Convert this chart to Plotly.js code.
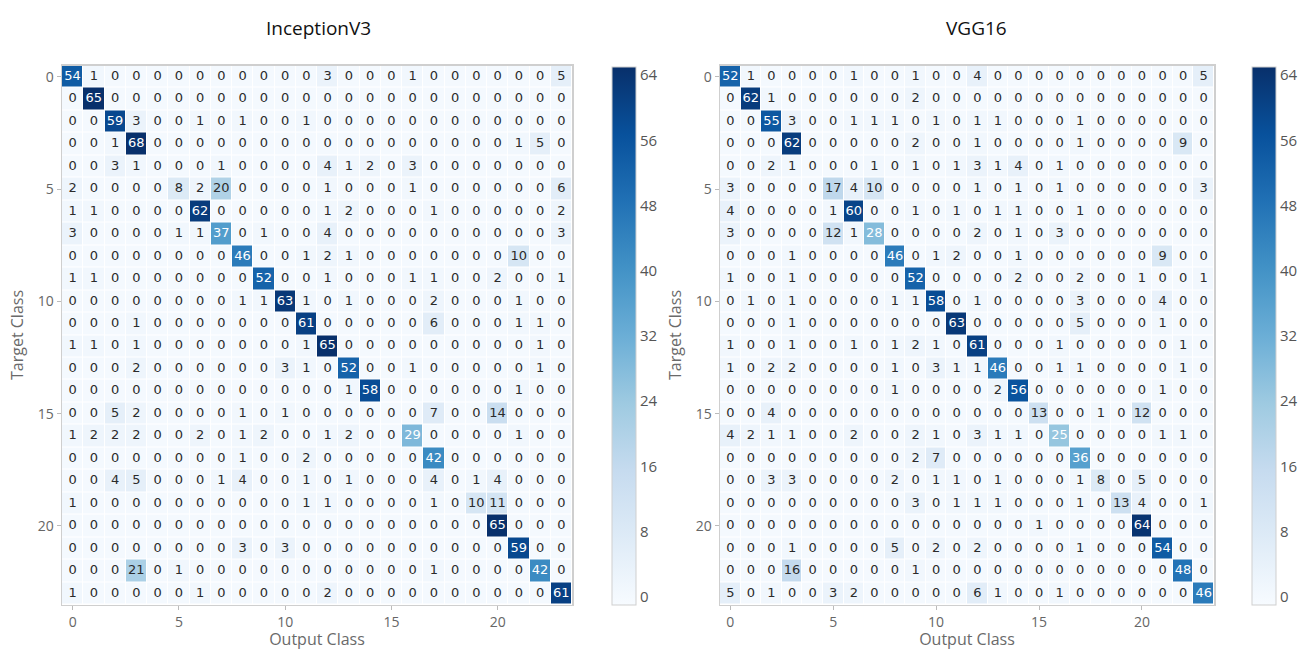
<!DOCTYPE html>
<html>
<head>
<meta charset="utf-8">
<script src="https://cdn.plot.ly/plotly-3.0.1.min.js"></script>
<style>html,body{margin:0;padding:0;background:#fff;}#chart{width:1312px;height:650px;}</style>
</head>
<body>
<div id="chart"></div>
<script>
// Class indices (0..23)
const classes = Array.from({length: 24}, (_, i) => i);
const axisTicks = [0, 5, 10, 15, 20];
const colorbarTicks = [0, 8, 16, 24, 32, 40, 48, 56, 64];

const titleLeft = "InceptionV3";
const titleRight = "VGG16";

// InceptionV3 confusion matrix (rows = target class, cols = output class)
const inceptionV3 = [
  [54,1,0,0,0,0,0,0,0,0,0,0, 3,0,0,0,1,0,0,0,0,0,0,5],
  [0,65,0,0,0,0,0,0,0,0,0,0, 0,0,0,0,0,0,0,0,0,0,0,0],
  [0,0,59,3,0,0,1,0,1,0,0,1, 0,0,0,0,0,0,0,0,0,0,0,0],
  [0,0,1,68,0,0,0,0,0,0,0,0, 0,0,0,0,0,0,0,0,0,1,5,0],
  [0,0,3,1,0,0,0,1,0,0,0,0, 4,1,2,0,3,0,0,0,0,0,0,0],
  [2,0,0,0,0,8,2,20,0,0,0,0, 1,0,0,0,1,0,0,0,0,0,0,6],
  [1,1,0,0,0,0,62,0,0,0,0,0, 1,2,0,0,0,1,0,0,0,0,0,2],
  [3,0,0,0,0,1,1,37,0,1,0,0, 4,0,0,0,0,0,0,0,0,0,0,3],
  [0,0,0,0,0,0,0,0,46,0,0,1, 2,1,0,0,0,0,0,0,0,10,0,0],
  [1,1,0,0,0,0,0,0,0,52,0,0, 1,0,0,0,1,1,0,0,2,0,0,1],
  [0,0,0,0,0,0,0,0,1,1,63,1, 0,1,0,0,0,2,0,0,0,1,0,0],
  [0,0,0,1,0,0,0,0,0,0,0,61, 0,0,0,0,0,6,0,0,0,1,1,0],
  [1,1,0,1,0,0,0,0,0,0,0,1, 65,0,0,0,0,0,0,0,0,0,1,0],
  [0,0,0,2,0,0,0,0,0,0,3,1, 0,52,0,0,1,0,0,0,0,0,1,0],
  [0,0,0,0,0,0,0,0,0,0,0,0, 0,1,58,0,0,0,0,0,0,1,0,0],
  [0,0,5,2,0,0,0,0,1,0,1,0, 0,0,0,0,0,7,0,0,14,0,0,0],
  [1,2,2,2,0,0,2,0,1,2,0,0, 1,2,0,0,29,0,0,0,0,1,0,0],
  [0,0,0,0,0,0,0,0,1,0,0,2, 0,0,0,0,0,42,0,0,0,0,0,0],
  [0,0,4,5,0,0,0,1,4,0,0,1, 0,1,0,0,0,4,0,1,4,0,0,0],
  [1,0,0,0,0,0,0,0,0,0,0,1, 1,0,0,0,0,1,0,10,11,0,0,0],
  [0,0,0,0,0,0,0,0,0,0,0,0, 0,0,0,0,0,0,0,0,65,0,0,0],
  [0,0,0,0,0,0,0,0,3,0,3,0, 0,0,0,0,0,0,0,0,0,59,0,0],
  [0,0,0,21,0,1,0,0,0,0,0,0, 0,0,0,0,0,1,0,0,0,0,42,0],
  [1,0,0,0,0,0,1,0,0,0,0,0, 2,0,0,0,0,0,0,0,0,0,0,61]
];

// VGG16 confusion matrix
const vgg16 = [
  [52,1,0,0,0,0,1,0,0,1,0,0, 4,0,0,0,0,0,0,0,0,0,0,5],
  [0,62,1,0,0,0,0,0,0,2,0,0, 0,0,0,0,0,0,0,0,0,0,0,0],
  [0,0,55,3,0,0,1,1,1,0,1,0, 1,1,0,0,0,1,0,0,0,0,0,0],
  [0,0,0,62,0,0,0,0,0,2,0,0, 1,0,0,0,0,1,0,0,0,0,9,0],
  [0,0,2,1,0,0,0,1,0,1,0,1, 3,1,4,0,1,0,0,0,0,0,0,0],
  [3,0,0,0,0,17,4,10,0,0,0,0, 1,0,1,0,1,0,0,0,0,0,0,3],
  [4,0,0,0,0,1,60,0,0,1,0,1, 0,1,1,0,0,1,0,0,0,0,0,0],
  [3,0,0,0,0,12,1,28,0,0,0,0, 2,0,1,0,3,0,0,0,0,0,0,0],
  [0,0,0,1,0,0,0,0,46,0,1,2, 0,0,1,0,0,0,0,0,0,9,0,0],
  [1,0,0,1,0,0,0,0,0,52,0,0, 0,0,2,0,0,2,0,0,1,0,0,1],
  [0,1,0,1,0,0,0,0,1,1,58,0, 1,0,0,0,0,3,0,0,0,4,0,0],
  [0,0,0,1,0,0,0,0,0,0,0,63, 0,0,0,0,0,5,0,0,0,1,0,0],
  [1,0,0,1,0,0,1,0,1,2,1,0, 61,0,0,0,1,0,0,0,0,0,1,0],
  [1,0,2,2,0,0,0,0,1,0,3,1, 1,46,0,0,1,1,0,0,0,0,1,0],
  [0,0,0,0,0,0,0,0,1,0,0,0, 0,2,56,0,0,0,0,0,0,1,0,0],
  [0,0,4,0,0,0,0,0,0,0,0,0, 0,0,0,13,0,0,1,0,12,0,0,0],
  [4,2,1,1,0,0,2,0,0,2,1,0, 3,1,1,0,25,0,0,0,0,1,1,0],
  [0,0,0,0,0,0,0,0,0,2,7,0, 0,0,0,0,0,36,0,0,0,0,0,0],
  [0,0,3,3,0,0,0,0,2,0,1,1, 0,1,0,0,0,1,8,0,5,0,0,0],
  [0,0,0,0,0,0,0,0,0,3,0,1, 1,1,0,0,0,1,0,13,4,0,0,1],
  [0,0,0,0,0,0,0,0,0,0,0,0, 0,0,0,1,0,0,0,0,64,0,0,0],
  [0,0,0,1,0,0,0,0,5,0,2,0, 2,0,0,0,0,1,0,0,0,54,0,0],
  [0,0,0,16,0,0,0,0,0,1,0,0, 0,0,0,0,0,0,0,0,0,0,48,0],
  [5,0,1,0,0,3,2,0,0,0,0,0, 6,1,0,0,1,0,0,0,0,0,0,46]
];

const W = 1312, H = 650;
const blues = [
  [0.0, '#f7fbff'], [0.125, '#deebf7'], [0.25, '#c6dbef'], [0.375, '#9ecae1'],
  [0.5, '#6baed6'], [0.625, '#4292c6'], [0.75, '#2171b5'], [0.875, '#08519c'], [1.0, '#08306b']
];

function textTrace(mat, xa, ya) {
  const xs = [], ys = [], ts = [], cs = [];
  mat.forEach((row, r) => row.forEach((v, c) => {
    xs.push(classes[c]); ys.push(classes[r]); ts.push(String(v));
    cs.push(v >= 25 ? '#ffffff' : '#2b2b2b');
  }));
  return {
    type: 'scatter', mode: 'text', x: xs, y: ys, text: ts,
    xaxis: xa, yaxis: ya, hoverinfo: 'skip', showlegend: false,
    textfont: {family: 'DejaVu Sans', size: 13, color: cs}
  };
}

function heat(mat, xa, ya, cbx) {
  return {
    type: 'heatmap', z: mat, x: classes, y: classes, xaxis: xa, yaxis: ya,
    colorscale: blues, zmin: -1, zmax: 65, xgap: 1, ygap: 1, hoverinfo: 'z',
    colorbar: {
      x: cbx / W, xanchor: 'left', y: 1 - 336 / H, yanchor: 'middle',
      len: 538 / H, lenmode: 'fraction', thickness: 24, thicknessmode: 'pixels',
      xpad: 0, ypad: 0, outlinewidth: 1, outlinecolor: '#cfcfcf',
      tickvals: colorbarTicks, ticks: '', ticklabelpad: 7,
      tickfont: {family: 'Open Sans', size: 15, color: '#555'}
    }
  };
}

const yDom = [1 - 604.5 / H, 1 - 65.5 / H];
function xAxis(dom) {
  return {
    domain: dom, range: [-0.5, 23.5], tickvals: axisTicks, ticks: 'outside', ticklen: 4,
    tickcolor: '#bbb', showline: true, mirror: true, linecolor: '#cfcfcf', linewidth: 1.5,
    showgrid: false, zeroline: false, automargin: false,
    tickfont: {family: 'Open Sans', size: 14, color: '#666'},
    title: {text: 'Output Class', font: {family: 'Open Sans', size: 16, color: '#6a6a6a'}, standoff: 5}
  };
}
function yAxis(anchor) {
  return {
    domain: yDom, range: [23.5, -0.5], tickvals: axisTicks, ticks: 'outside', ticklen: 4,
    tickcolor: '#bbb', showline: true, mirror: true, linecolor: '#cfcfcf', linewidth: 1.5,
    showgrid: false, zeroline: false, automargin: false, anchor: anchor,
    tickfont: {family: 'Open Sans', size: 14, color: '#666'},
    title: {text: 'Target Class', font: {family: 'Open Sans', size: 16, color: '#6a6a6a'}, standoff: 10}
  };
}

const data = [
  heat(inceptionV3, 'x', 'y', 612),
  textTrace(inceptionV3, 'x', 'y'),
  heat(vgg16, 'x2', 'y2', 1252),
  textTrace(vgg16, 'x2', 'y2')
];

const layout = {
  width: W, height: H, margin: {l: 0, r: 0, t: 0, b: 0},
  paper_bgcolor: '#fff', plot_bgcolor: '#fff', showlegend: false,
  xaxis: xAxis([62 / W, 572 / W]),
  yaxis: yAxis('x'),
  xaxis2: Object.assign(xAxis([720 / W, 1214 / W]), {anchor: 'y2'}),
  yaxis2: yAxis('x2'),
  annotations: [
    {text: titleLeft, xref: 'paper', yref: 'paper', x: 318 / W, y: 1 - 28 / H, showarrow: false,
     xanchor: 'center', yanchor: 'middle', font: {family: 'Open Sans', size: 19, color: '#111'}},
    {text: titleRight, xref: 'paper', yref: 'paper', x: 976 / W, y: 1 - 28 / H, showarrow: false,
     xanchor: 'center', yanchor: 'middle', font: {family: 'Open Sans', size: 19, color: '#111'}}
  ]
};

Plotly.newPlot('chart', data, layout, {displayModeBar: false, staticPlot: true});
</script>
</body>
</html>
